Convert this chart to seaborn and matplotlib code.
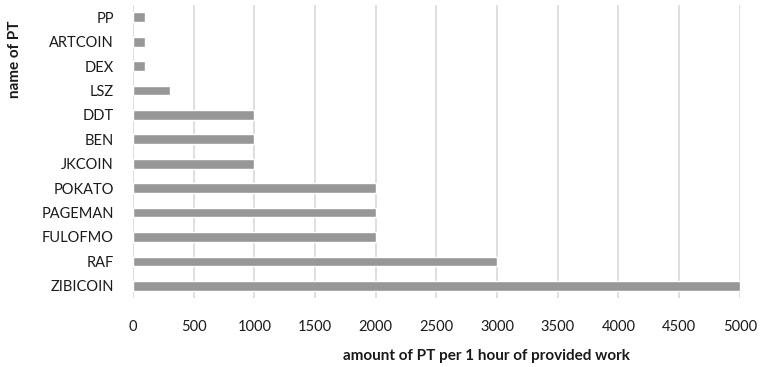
import matplotlib
matplotlib.use("Agg")
import matplotlib.pyplot as plt
import seaborn as sns
import pandas as pd

tokens = ["PP", "ARTCOIN", "DEX", "LSZ", "DDT", "BEN", "JKCOIN",
          "POKATO", "PAGEMAN", "FULOFMO", "RAF", "ZIBICOIN"]
pt_per_hour = [100, 100, 100, 300, 1000, 1000, 1000,
               2000, 2000, 2000, 3000, 5000]
x_ticks = [0, 500, 1000, 1500, 2000, 2500, 3000, 3500, 4000, 4500, 5000]

df = pd.DataFrame({"token": tokens, "amount": pt_per_hour})

sns.set_theme(style="white")
plt.rcParams["font.family"] = ["Lato", "DejaVu Sans"]

fig = plt.figure(figsize=(7.61, 3.67), dpi=100)
ax = fig.add_axes([0.175, 0.188, 0.797, 0.798])

sns.barplot(data=df, x="amount", y="token", order=tokens, color="#979797",
            saturation=1, width=0.4, ax=ax, zorder=3)

ax.set_xlim(0, 5000)
ax.set_xticks(x_ticks)
ax.set_xticklabels([str(t) for t in x_ticks], fontsize=10.5, color="#1a1a1a")
ax.tick_params(axis="y", labelsize=10.5, labelcolor="#1a1a1a", length=0, pad=14)
ax.tick_params(axis="x", length=0, pad=16)
ax.xaxis.grid(True, color="#d9d9d9", linewidth=1.2, zorder=0)
ax.set_axisbelow(True)
for s in ax.spines.values():
    s.set_visible(False)

ax.set_xlabel("")
ax.set_ylabel("")
fig.text(0.639, 0.030, "amount of PT per 1 hour of provided work",
         fontsize=11, fontweight="bold", color="#1a1a1a",
         ha="center", va="center")
fig.text(0.020, 0.839, "name of PT", fontsize=11, fontweight="bold",
         color="#1a1a1a", rotation=90, ha="center", va="center")

fig.savefig("out.png", dpi=100)
